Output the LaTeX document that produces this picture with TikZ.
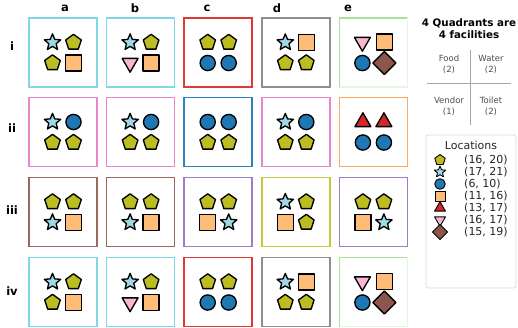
\documentclass[tikz,border=0pt]{standalone}
\usepackage{fontspec}
\setmainfont{DejaVu Sans}
\definecolor{cpent}{HTML}{BCBD22}
\definecolor{cstar}{HTML}{9EDAE5}
\definecolor{ccirc}{HTML}{1F77B4}
\definecolor{csq}{HTML}{FFBB78}
\definecolor{ctri}{HTML}{D62728}
\definecolor{cinv}{HTML}{F7B6D2}
\definecolor{cdia}{HTML}{8C564B}
\definecolor{bcyan}{HTML}{7FD8E6}
\definecolor{bpink}{HTML}{E987CC}
\definecolor{bred}{HTML}{DE3A35}
\definecolor{bgray}{HTML}{8F8F8F}
\definecolor{bgreen}{HTML}{A6E29A}
\definecolor{bblue}{HTML}{2E82BE}
\definecolor{borange}{HTML}{FFA860}
\definecolor{bbrown}{HTML}{9A6A60}
\definecolor{bpurple}{HTML}{A07CC8}
\definecolor{bolive}{HTML}{C6C73A}
\tikzset{
  mk/.style={draw=black, line width=1.35pt, line join=round},
  boxst/.style={line width=1.6pt},
  pics/pent/.style={code={\path[mk,fill=cpent] (90:#1)--(162:#1)--(234:#1)--(306:#1)--(18:#1)--cycle;}},
  pics/star/.style={code={\path[mk,fill=cstar] (90:#1)--(126:0.45*#1)--(162:#1)--(198:0.45*#1)--(234:#1)--(270:0.45*#1)--(306:#1)--(342:0.45*#1)--(18:#1)--(54:0.45*#1)--cycle;}},
  pics/circ/.style={code={\path[mk,fill=ccirc] (0,0) circle[radius=#1];}},
  pics/sq/.style={code={\path[mk,fill=csq] (-#1,-#1) rectangle (#1,#1);}},
  pics/tri/.style={code={\path[mk,fill=ctri] (90:#1)--(210:#1)--(330:#1)--cycle;}},
  pics/inv/.style={code={\path[mk,fill=cinv] (270:#1)--(30:#1)--(150:#1)--cycle;}},
  pics/dia/.style={code={\path[mk,fill=cdia] (0:#1)--(90:#1)--(180:#1)--(270:#1)--cycle;}},
  collab/.style={font=\bfseries\fontsize{11.5}{13}\selectfont},
  leg/.style={font=\fontsize{11}{13}\selectfont, text=black!85, anchor=west, inner sep=0pt},
  quad/.style={font=\fontsize{8.5}{10}\selectfont, text=black!70, align=center, inner sep=0pt},
}
\newcommand\shp[3]{%
  \ifx#3p\pic at (#1,#2) {pent=8.2pt};\fi
  \ifx#3s\pic at (#1,#2) {star=8.6pt};\fi
  \ifx#3c\pic at (#1,#2) {circ=7.6pt};\fi
  \ifx#3q\pic at (#1,#2) {sq=8pt};\fi
  \ifx#3t\pic at (#1,#2) {tri=9.2pt};\fi
  \ifx#3v\pic at (#1,#2) {inv=9.2pt};\fi
  \ifx#3d\pic at (#1,#2) {dia=11.5pt};\fi
}
\newcommand\cellbox[7]{%
  \draw[boxst,draw=#3] (#1-34,#2-34.5) rectangle (#1+34,#2+34.5);
  \shp{#1-10.5}{#2-10}{#4}
  \shp{#1+10.5}{#2-10}{#5}
  \shp{#1-10.5}{#2+10.5}{#6}
  \shp{#1+10.5}{#2+10.5}{#7}
}
\newcommand\cellgreen[2]{%
  \draw[boxst,draw=bgreen!30] (#1-34,#2-34.5) rectangle (#1+34,#2+34.5);
  \draw[boxst,draw=bgreen] (#1-34,#2+34.5) -- (#1-34,#2-34.5) -- (#1+34,#2-34.5);
  \shp{#1-11}{#2-10.5}{v}
  \shp{#1+11}{#2-10.5}{q}
  \shp{#1-11}{#2+10.5}{c}
  \shp{#1+11}{#2+10.5}{d}
}
\begin{document}
\begin{tikzpicture}[x=1pt,y=-1pt]
\useasboundingbox (0,0) rectangle (518,327);
% column labels
\node[collab] (ca) at (65,8) {a};
\node[collab] (cb) at (135,8) {b};
\node[collab] (cc) at (207,8) {c};
\node[collab] (cd) at (277,8) {d};
\node[collab] (ce) at (348,8) {e};
% row labels
\node[collab] (ri) at (12,46) {i};
\node[collab] (rii) at (12,128) {ii};
\node[collab] (riii) at (12,210) {iii};
\node[collab] (riv) at (12,291) {iv};
% row i
\cellbox{63}{52.5}{bcyan}{s}{p}{p}{q}
\cellbox{140.6}{52.5}{bcyan}{s}{p}{v}{q}
\cellbox{218.2}{52.5}{bred}{p}{p}{c}{c}
\cellbox{295.8}{52.5}{bgray}{s}{q}{p}{p}
\cellgreen{373.4}{52.5}
% row ii
\cellbox{63}{132}{bpink}{s}{c}{p}{p}
\cellbox{140.6}{132}{bpink}{s}{c}{p}{p}
\cellbox{218.2}{132}{bblue}{c}{c}{p}{p}
\cellbox{295.8}{132}{bpink}{s}{c}{p}{p}
\cellbox{373.4}{132}{borange}{t}{t}{c}{c}
% row iii
\cellbox{63}{212}{bbrown}{p}{p}{s}{q}
\cellbox{140.6}{212}{bbrown}{p}{p}{s}{q}
\cellbox{218.2}{212}{bpurple}{p}{p}{q}{s}
\cellbox{295.8}{212}{bolive}{s}{p}{q}{p}
\cellbox{373.4}{212}{bpurple}{p}{p}{q}{s}
% row iv
\cellbox{63}{292}{bcyan}{s}{p}{p}{q}
\cellbox{140.6}{292}{bcyan}{s}{p}{v}{q}
\cellbox{218.2}{292}{bred}{p}{p}{c}{c}
\cellbox{295.8}{292}{bgray}{s}{q}{p}{p}
\cellgreen{373.4}{292}
% quadrant key
\node[font=\bfseries\fontsize{10.3}{12}\selectfont, align=center, inner sep=0pt] (qt) at (469,29) {4 Quadrants are\\4 facilities};
\coordinate (vt) at (470,50);
\coordinate (vb) at (470,125);
\coordinate (hl) at (427,83);
\coordinate (hr) at (511,83);
\draw[black!35, line width=0.8pt] (vt) -- (vb);
\draw[black!35, line width=0.8pt] (hl) -- (hr);
\node[quad] (qf) at (449,64) {Food\\[1pt](2)};
\node[quad] (qw) at (491,64) {Water\\[1pt](2)};
\node[quad] (qv) at (449,106) {Vendor\\[1pt](1)};
\node[quad] (qto) at (491,106) {Toilet\\[1pt](2)};
% legend
\draw[black!15, line width=0.8pt, rounded corners=2pt, fill=white] (426,135) rectangle (516,288);
\node[font=\fontsize{11}{13}\selectfont, text=black!85, inner sep=0pt] (lt) at (471,145) {Locations};
\begin{scope}[mk/.append style={line width=0.9pt}]
\pic at (440,160) {pent=5.5pt};
\pic at (440,172) {star=6pt};
\pic at (440,184) {circ=5.3pt};
\pic at (440,196) {sq=5pt};
\pic at (440,208) {tri=6.3pt};
\pic at (440,220) {inv=6.3pt};
\pic at (440,232) {dia=7.5pt};
\end{scope}
\node[leg] (l1) at (464,160) {(16, 20)};
\node[leg] (l2) at (464,172) {(17, 21)};
\node[leg] (l3) at (464,184) {(6, 10)};
\node[leg] (l4) at (464,196) {(11, 16)};
\node[leg] (l5) at (464,208) {(13, 17)};
\node[leg] (l6) at (464,220) {(16, 17)};
\node[leg] (l7) at (464,232) {(15, 19)};
\end{tikzpicture}
\end{document}
